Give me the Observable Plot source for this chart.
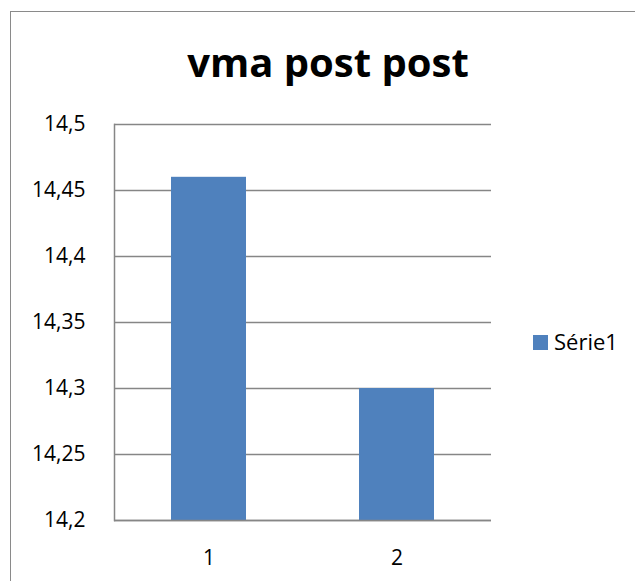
<!DOCTYPE html>
<html>
<head>
<meta charset="utf-8">
<script src="https://cdn.jsdelivr.net/npm/d3@7"></script>
<script src="https://cdn.jsdelivr.net/npm/@observablehq/plot@0.6"></script>
<style>
  html, body { margin: 0; padding: 0; background: #fff; }
  #wrap { position: relative; width: 635px; height: 581px; overflow: hidden; font-family: "Open Sans", sans-serif; }
  #frame { position: absolute; left: 10px; top: 11px; width: 700px; height: 700px; border-top: 1.5px solid #8a8a8a; border-left: 1.5px solid #8a8a8a; }
  #title { position: absolute; left: 0; top: 42px; width: 656px; text-align: center; font-weight: 700; font-size: 40px; line-height: 1; color: #000; }
  #legend { position: absolute; left: 533px; top: 330px; font-size: 22px; line-height: 1; color: #000; display: flex; align-items: center; }
  #legend .sw { display: inline-block; width: 15px; height: 15px; background: #4F81BD; margin-right: 6px; margin-top: 2px; }
  #chart { position: absolute; left: 0; top: 0; }
</style>
</head>
<body>
<div id="wrap">
  <div id="frame"></div>
  <div id="chart"></div>
  <div id="title">vma post post</div>
  <div id="legend"><span class="sw"></span><span>Série1</span></div>
</div>
<script>
const categories = ["1", "2"];
const values = [14.46, 14.3];
const seriesName = "Série1";
const yTicks = [14.2, 14.25, 14.3, 14.35, 14.4, 14.45, 14.5];
const yTickLabels = ["14,2", "14,25", "14,3", "14,35", "14,4", "14,45", "14,5"];

const data = categories.map((c, i) => ({category: c, value: values[i], series: seriesName}));
const yMin = yTicks[0];

const chart = Plot.plot({
  width: 635,
  height: 581,
  marginLeft: 114,
  marginRight: 144,
  marginTop: 124,
  marginBottom: 61,
  style: {fontFamily: "Open Sans, sans-serif", fontSize: "21px", color: "#000", background: "transparent", overflow: "visible"},
  x: {domain: categories, paddingInner: 0.6, paddingOuter: 0.3, label: null},
  y: {domain: [yTicks[0], yTicks[yTicks.length - 1]], label: null},
  marks: [
    Plot.gridY(yTicks, {stroke: "#868686", strokeOpacity: 1, strokeWidth: 1.5}),
    Plot.barY(data, {x: "category", y1: () => yMin, y2: "value", fill: "#4F81BD"}),
    Plot.frame({anchor: "left", stroke: "#868686", strokeWidth: 1.5}),
    Plot.ruleY([yMin], {stroke: "#868686", strokeWidth: 1.5}),
    Plot.axisY({ticks: yTicks, tickFormat: (d) => yTickLabels[yTicks.indexOf(d)], tickSize: 0, tickPadding: 29, fontSize: 21, fill: "#000", label: null}),
    Plot.axisX({tickSize: 0, tickPadding: 30, fontSize: 21, fill: "#000", label: null})
  ]
});
document.getElementById("chart").appendChild(chart);
</script>
</body>
</html>
